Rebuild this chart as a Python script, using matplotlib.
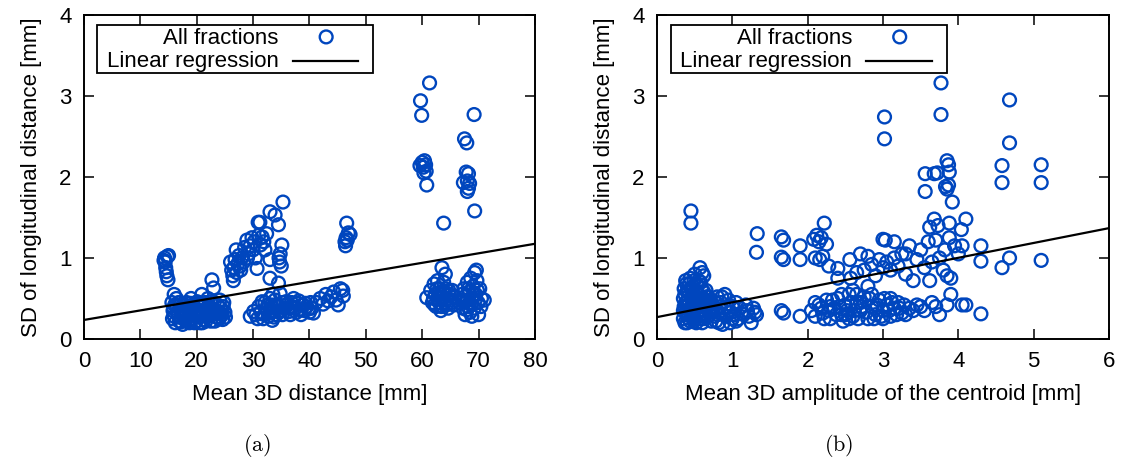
import matplotlib

matplotlib.use("Agg")

import matplotlib.pyplot as plt
import numpy as np
from matplotlib.patches import Rectangle

plt.rcParams["font.family"] = ["Liberation Sans", "DejaVu Sans"]
plt.rcParams["mathtext.fontset"] = "cm"

BLUE = "#0046BE"

# panel (a): mean 3D distance [mm] vs SD of longitudinal distance [mm]
points_a = [
    # x ~ 14-15
    (14.3, 1.00), (14.8, 1.02), (15.0, 1.03), (14.4, 0.95), (14.5, 0.88),
    (14.6, 0.83), (14.7, 0.78), (14.9, 0.73), (14.2, 0.97),
    # low cluster 15-25
    (15.6, 0.45), (15.8, 0.35), (16.0, 0.28), (16.2, 0.20), (16.4, 0.50),
    (16.5, 0.40), (16.7, 0.30), (16.9, 0.22), (17.1, 0.36), (17.3, 0.26),
    (17.5, 0.18), (17.7, 0.42), (17.9, 0.32), (18.1, 0.24), (18.3, 0.38),
    (18.5, 0.28), (18.7, 0.20), (18.9, 0.44), (19.1, 0.34), (19.3, 0.25),
    (19.5, 0.40), (19.7, 0.30), (19.9, 0.22), (20.1, 0.46), (20.3, 0.36),
    (20.5, 0.27), (20.7, 0.42), (20.9, 0.55), (21.1, 0.32), (21.3, 0.24),
    (21.5, 0.45), (21.7, 0.35), (21.9, 0.28), (22.1, 0.40), (22.3, 0.30),
    (22.5, 0.22), (22.7, 0.73), (23.0, 0.63), (23.1, 0.45), (23.3, 0.35),
    (23.5, 0.27), (23.7, 0.42), (23.9, 0.32), (24.1, 0.48), (24.3, 0.38),
    (24.5, 0.30), (24.7, 0.40), (25.0, 0.33), (16.0, 0.55), (17.0, 0.45),
    (19.0, 0.50), (21.0, 0.20), (22.0, 0.50), (24.0, 0.25), (15.9, 0.38),
    (18.0, 0.30), (15.7, 0.25), (16.1, 0.42), (16.6, 0.33), (16.8, 0.45),
    (17.2, 0.21), (17.4, 0.38), (17.8, 0.27), (18.2, 0.45), (18.4, 0.22),
    (18.8, 0.33), (19.2, 0.42), (19.6, 0.20), (20.0, 0.30), (20.4, 0.44),
    (20.6, 0.20), (20.8, 0.34), (21.2, 0.41), (21.6, 0.22), (22.2, 0.35),
    (22.4, 0.46), (22.8, 0.30), (23.2, 0.22), (23.6, 0.34), (24.2, 0.32),
    (24.6, 0.24), (24.8, 0.45), (25.1, 0.27), (22.6, 0.38), (19.4, 0.30),
    (17.6, 0.33),
    # upper cluster 26-35
    (26.0, 0.95), (26.2, 0.85), (26.4, 0.78), (26.5, 0.72), (26.6, 0.88),
    (26.8, 0.98), (27.0, 1.10), (27.1, 0.82), (27.3, 0.93), (27.5, 1.03),
    (27.7, 0.90), (28.0, 1.00), (28.3, 0.95), (28.5, 1.13), (28.9, 1.22),
    (29.2, 1.05), (29.5, 1.15), (29.8, 1.25), (30.0, 1.10), (30.2, 1.20),
    (30.4, 1.00), (30.7, 0.87), (30.9, 1.44), (31.2, 1.44), (31.0, 1.28),
    (31.3, 1.16), (31.6, 1.26), (31.9, 1.20), (32.1, 1.10), (32.4, 1.30),
    (33.0, 1.57), (33.9, 1.53), (34.5, 1.41), (35.3, 1.69), (35.1, 1.16),
    (34.8, 1.05), (34.7, 0.95), (35.0, 0.90), (34.6, 1.00), (33.0, 0.98),
    (33.0, 0.75), (29.0, 1.00), (27.8, 0.85),
    # lower band 29-47
    (29.5, 0.28), (30.1, 0.34), (30.5, 0.30), (31.0, 0.40), (31.4, 0.33),
    (31.8, 0.25), (32.1, 0.45), (32.4, 0.37), (32.7, 0.28), (33.0, 0.50),
    (33.2, 0.42), (33.4, 0.23), (33.6, 0.35), (33.9, 0.48), (34.1, 0.30),
    (34.3, 0.40), (34.5, 0.69), (34.8, 0.56), (35.0, 0.35), (35.3, 0.45),
    (35.6, 0.38), (36.0, 0.42), (36.4, 0.34), (36.8, 0.45), (37.2, 0.50),
    (37.5, 0.38), (37.9, 0.44), (38.3, 0.36), (38.7, 0.42), (39.1, 0.35),
    (39.5, 0.40), (40.0, 0.33), (40.4, 0.38), (40.7, 0.32), (41.2, 0.45),
    (41.9, 0.50), (42.4, 0.43), (42.9, 0.55), (43.3, 0.47), (43.8, 0.52),
    (44.3, 0.58), (44.7, 0.48), (45.1, 0.42), (45.5, 0.62), (45.9, 0.60),
    (46.0, 0.53), (32.0, 0.30), (32.6, 0.42), (33.1, 0.33), (33.7, 0.27),
    (34.0, 0.42), (34.6, 0.33), (35.2, 0.30), (35.8, 0.46), (36.2, 0.38),
    (36.6, 0.30), (37.0, 0.40), (37.7, 0.33), (38.1, 0.47), (38.5, 0.30),
    (39.3, 0.44), (39.8, 0.37), (40.2, 0.45), (30.8, 0.25), (31.6, 0.46),
    (33.5, 0.55),
    # x ~ 46
    (46.6, 1.43), (46.9, 1.31), (47.2, 1.29), (46.5, 1.25), (46.3, 1.20),
    (46.4, 1.15), (46.7, 1.22),
    # x ~ 60
    (59.7, 2.94), (59.9, 2.76), (61.3, 3.16), (59.6, 2.14), (60.0, 2.18),
    (60.4, 2.20), (60.6, 2.15), (60.3, 2.05), (60.7, 2.07), (60.8, 1.90),
    (60.2, 2.12), (63.8, 1.43),
    # x ~ 68
    (67.5, 2.47), (67.9, 2.42), (69.2, 2.77), (67.8, 2.06), (68.2, 2.04),
    (67.3, 1.93), (68.0, 1.95), (68.4, 1.92), (68.2, 1.86), (68.0, 1.82),
    (69.3, 1.58),
    # lower right 61-66
    (60.8, 0.51), (61.5, 0.60), (61.8, 0.45), (62.1, 0.68), (62.3, 0.55),
    (62.5, 0.40), (62.7, 0.72), (62.9, 0.50), (63.1, 0.62), (63.3, 0.35),
    (63.5, 0.88), (63.7, 0.56), (63.8, 0.70), (64.0, 0.45), (64.2, 0.62),
    (64.4, 0.50), (64.6, 0.38), (64.8, 0.55), (65.0, 0.48), (65.3, 0.60),
    (65.6, 0.42), (65.9, 0.52), (62.0, 0.50), (63.0, 0.45), (64.1, 0.80),
    (62.2, 0.42), (62.6, 0.62), (63.2, 0.52), (63.4, 0.40), (63.9, 0.58),
    (64.3, 0.42), (64.7, 0.60), (65.2, 0.45),
    # lower right 67-71
    (66.7, 0.45), (67.0, 0.55), (67.2, 0.38), (67.4, 0.62), (67.6, 0.30),
    (67.8, 0.48), (68.0, 0.70), (68.1, 0.40), (68.3, 0.58), (68.5, 0.33),
    (68.6, 0.75), (68.8, 0.50), (69.0, 0.65), (69.2, 0.38), (69.3, 0.82),
    (69.5, 0.55), (69.7, 0.72), (69.9, 0.45), (70.0, 0.30), (70.2, 0.62),
    (70.5, 0.50), (71.0, 0.48), (69.6, 0.85), (68.8, 0.28), (67.1, 0.47),
    (67.5, 0.52), (67.9, 0.36), (68.2, 0.62), (68.7, 0.42), (69.1, 0.55),
    (69.4, 0.48), (69.8, 0.60), (70.4, 0.40), (68.4, 0.45),
]

# panel (b): mean 3D amplitude of the centroid [mm] vs SD [mm]
points_b = [
    # dense x ~ 0.35-0.7
    (0.35, 0.25), (0.36, 0.40), (0.37, 0.55), (0.38, 0.32), (0.39, 0.68),
    (0.40, 0.20), (0.41, 0.47), (0.42, 0.60), (0.43, 0.35), (0.44, 0.75),
    (0.45, 0.28), (0.46, 0.52), (0.47, 0.42), (0.48, 0.65), (0.49, 0.22),
    (0.50, 0.80), (0.51, 0.38), (0.52, 0.58), (0.53, 0.30), (0.54, 0.48),
    (0.55, 0.72), (0.56, 0.25), (0.57, 0.88), (0.58, 0.42), (0.59, 0.62),
    (0.60, 0.35), (0.61, 0.50), (0.62, 0.78), (0.63, 0.28), (0.64, 0.45),
    (0.65, 0.60), (0.66, 0.38), (0.68, 0.52), (0.70, 0.30), (0.72, 0.45),
    (0.40, 0.30), (0.45, 0.50), (0.50, 0.25), (0.55, 0.40), (0.60, 0.20),
    (0.38, 0.45), (0.48, 0.35), (0.45, 1.58), (0.45, 1.43),
    (0.35, 0.35), (0.35, 0.50), (0.36, 0.62), (0.37, 0.20), (0.38, 0.72),
    (0.39, 0.40), (0.40, 0.58), (0.41, 0.26), (0.42, 0.42), (0.43, 0.68),
    (0.44, 0.22), (0.45, 0.38), (0.46, 0.62), (0.47, 0.30), (0.48, 0.50),
    (0.49, 0.72), (0.50, 0.45), (0.51, 0.60), (0.52, 0.20), (0.53, 0.68),
    (0.54, 0.35), (0.55, 0.55), (0.56, 0.45), (0.57, 0.30), (0.58, 0.70),
    (0.59, 0.50), (0.60, 0.82), (0.61, 0.25), (0.62, 0.58), (0.63, 0.40),
    (0.65, 0.30), (0.66, 0.52), (0.67, 0.42), (0.69, 0.35), (0.70, 0.48),
    (0.72, 0.22), (0.74, 0.35), (0.76, 0.28), (0.78, 0.45), (0.80, 0.30),
    (0.84, 0.40), (0.88, 0.30), (0.93, 0.40), (0.98, 0.33), (1.05, 0.22),
    (1.12, 0.32), (1.00, 0.25), (0.86, 0.52),
    # x ~ 0.7-1.3
    (0.75, 0.40), (0.78, 0.22), (0.80, 0.52), (0.82, 0.33), (0.85, 0.45),
    (0.87, 0.18), (0.90, 0.38), (0.92, 0.28), (0.95, 0.48), (0.97, 0.20),
    (1.00, 0.40), (1.02, 0.30), (1.05, 0.45), (1.08, 0.25), (1.10, 0.38),
    (1.15, 0.30), (1.18, 0.42), (1.20, 0.35), (1.22, 0.28), (1.25, 0.20),
    (1.28, 0.38), (1.30, 0.33), (0.90, 0.55), (0.82, 0.20),
    (1.33, 1.30), (1.32, 1.07), (1.32, 0.30),
    (1.65, 1.26), (1.68, 1.22), (1.65, 1.01), (1.68, 0.98), (1.65, 0.35),
    (1.68, 0.32), (1.90, 1.15), (1.90, 0.98), (1.90, 0.28),
    # x ~ 2.1-2.3 upper
    (2.22, 1.43), (2.12, 1.28), (2.18, 1.25), (2.25, 1.17), (2.08, 1.23),
    (2.15, 1.20), (2.10, 1.00), (2.20, 1.02), (2.16, 0.98), (2.28, 0.90),
    # lower band 2.05-4.1
    (2.05, 0.35), (2.10, 0.28), (2.15, 0.42), (2.20, 0.32), (2.25, 0.48),
    (2.30, 0.25), (2.35, 0.38), (2.40, 0.50), (2.45, 0.30), (2.50, 0.42),
    (2.55, 0.55), (2.60, 0.28), (2.65, 0.45), (2.70, 0.35), (2.75, 0.52),
    (2.80, 0.25), (2.85, 0.40), (2.90, 0.30), (2.95, 0.48), (3.00, 0.35),
    (3.05, 0.42), (3.10, 0.28), (3.15, 0.38), (3.20, 0.45), (3.25, 0.32),
    (3.35, 0.38), (3.45, 0.42), (3.55, 0.35), (3.65, 0.45), (3.75, 0.30),
    (3.70, 0.40), (3.85, 0.42), (3.90, 0.55), (4.05, 0.42), (4.10, 0.42),
    (2.30, 0.40), (2.50, 0.30), (2.70, 0.45), (2.90, 0.38), (3.10, 0.50),
    (2.60, 0.60), (2.80, 0.65),
    (2.10, 0.45), (2.18, 0.38), (2.22, 0.25), (2.28, 0.35), (2.33, 0.48),
    (2.38, 0.30), (2.42, 0.40), (2.47, 0.22), (2.52, 0.35), (2.58, 0.45),
    (2.62, 0.35), (2.67, 0.25), (2.72, 0.40), (2.78, 0.33), (2.82, 0.50),
    (2.88, 0.25), (2.92, 0.42), (2.98, 0.28), (3.02, 0.50), (3.08, 0.35),
    (3.12, 0.45), (3.18, 0.30), (3.22, 0.38), (3.28, 0.42), (3.30, 0.30),
    (3.40, 0.35), (3.50, 0.40), (2.45, 0.55), (2.65, 0.55), (2.85, 0.55),
    (3.00, 0.25), (2.55, 0.25),
    # mid 2.4-4.3
    (2.40, 0.87), (2.40, 0.75), (2.56, 0.98), (2.57, 0.75),
    (2.70, 1.05), (2.75, 0.85), (2.80, 1.02), (2.85, 0.92), (2.90, 0.78),
    (2.95, 0.98), (3.00, 1.23), (3.03, 1.22), (3.15, 1.20), (3.05, 0.95),
    (3.10, 0.85), (3.15, 1.00), (3.20, 0.90), (3.25, 1.05), (3.30, 0.80),
    (3.35, 1.15), (3.40, 0.72), (3.45, 0.98), (3.50, 1.10), (3.55, 0.88),
    (3.60, 1.20), (3.62, 0.72), (3.65, 0.95), (3.70, 1.22), (3.75, 1.00),
    (3.80, 0.85), (3.82, 1.10), (3.85, 0.78), (3.88, 1.25), (3.90, 0.75),
    (3.95, 1.15), (4.00, 1.05), (4.05, 1.15), (3.00, 0.88), (2.65, 0.82),
    (3.30, 1.05),
    # upper 3.5-4.1
    (3.56, 2.04), (3.68, 2.04), (3.72, 2.05), (3.56, 1.82), (3.85, 2.20),
    (3.87, 2.15), (3.88, 2.06), (3.83, 1.88), (3.87, 1.90), (3.85, 1.85),
    (3.92, 1.69), (3.68, 1.48), (3.62, 1.38), (3.73, 1.40), (3.88, 1.43),
    (4.04, 1.35), (4.10, 1.48),
    (3.77, 3.16), (3.77, 2.77), (3.02, 2.74), (3.02, 2.47),
    (4.30, 1.15), (4.30, 0.96), (4.30, 0.31),
    (4.58, 2.14), (4.58, 1.93), (4.58, 0.88), (4.68, 2.95), (4.68, 2.42),
    (4.68, 1.00), (5.10, 2.15), (5.10, 1.93), (5.10, 0.97),
]

# linear regression (intercept, slope)
fit_a = (0.235, 0.01175)
fit_b = (0.27, 0.183)

x_labels = ["Mean 3D distance [mm]", "Mean 3D amplitude of the centroid [mm]"]
x_limits = [(0, 80), (0, 6)]
x_steps = [10, 1]
captions = ["(a)", "(b)"]
caption_x = [0.228, 0.744]

FS = 16

fig = plt.figure(figsize=(11.27, 4.65), dpi=100)
ax_a = fig.add_axes([0.0745, 0.271, 0.4002, 0.697])
ax_b = fig.add_axes([0.583, 0.271, 0.401, 0.697])

for ax, pts, fit, xlab, xlim, step, cap, cx in zip(
    (ax_a, ax_b), (points_a, points_b), (fit_a, fit_b), x_labels, x_limits,
    x_steps, captions, caption_x
):
    pts = np.array(pts)
    ax.scatter(pts[:, 0], pts[:, 1], s=85, facecolors="none", edgecolors=BLUE,
               linewidths=1.7, zorder=2)
    xs = np.array(xlim, dtype=float)
    ax.plot(xs, fit[0] + fit[1] * xs, color="black", lw=1.6, zorder=3)

    ax.set_xlim(*xlim)
    ax.set_ylim(0, 4)
    ax.set_xticks(np.arange(xlim[0], xlim[1] + step, step))
    ax.set_yticks([0, 1, 2, 3, 4])
    ax.tick_params(direction="in", length=7, width=1.1, top=True, right=True,
                   labelsize=FS)
    ax.tick_params(axis="x", pad=9)
    ax.tick_params(axis="y", pad=9)
    for sp in ax.spines.values():
        sp.set_linewidth(1.4)
    ax.set_xlabel(xlab, fontsize=FS, labelpad=8)
    ax.set_ylabel("SD of longitudinal distance [mm]", fontsize=FS, labelpad=12)

    # gnuplot style key box
    ax.add_patch(Rectangle((0.03, 0.822), 0.611, 0.147, transform=ax.transAxes,
                           facecolor="white", edgecolor="black", lw=1.3, zorder=4))
    ax.text(0.432, 0.928, "All fractions", transform=ax.transAxes, ha="right",
            va="center", fontsize=FS, zorder=5)
    ax.text(0.432, 0.856, "Linear regression", transform=ax.transAxes, ha="right",
            va="center", fontsize=FS, zorder=5)
    ax.scatter([0.537], [0.932], s=85, facecolors="none", edgecolors=BLUE,
               linewidths=1.7, transform=ax.transAxes, zorder=5)
    ax.plot([0.463, 0.608], [0.858, 0.858], color="black", lw=1.6,
            transform=ax.transAxes, zorder=5)

    fig.text(cx, 0.043, r"$\mathrm{" + cap + "}$", ha="center", va="center",
             fontsize=16)

fig.savefig("out.png", dpi=100, facecolor="white")
